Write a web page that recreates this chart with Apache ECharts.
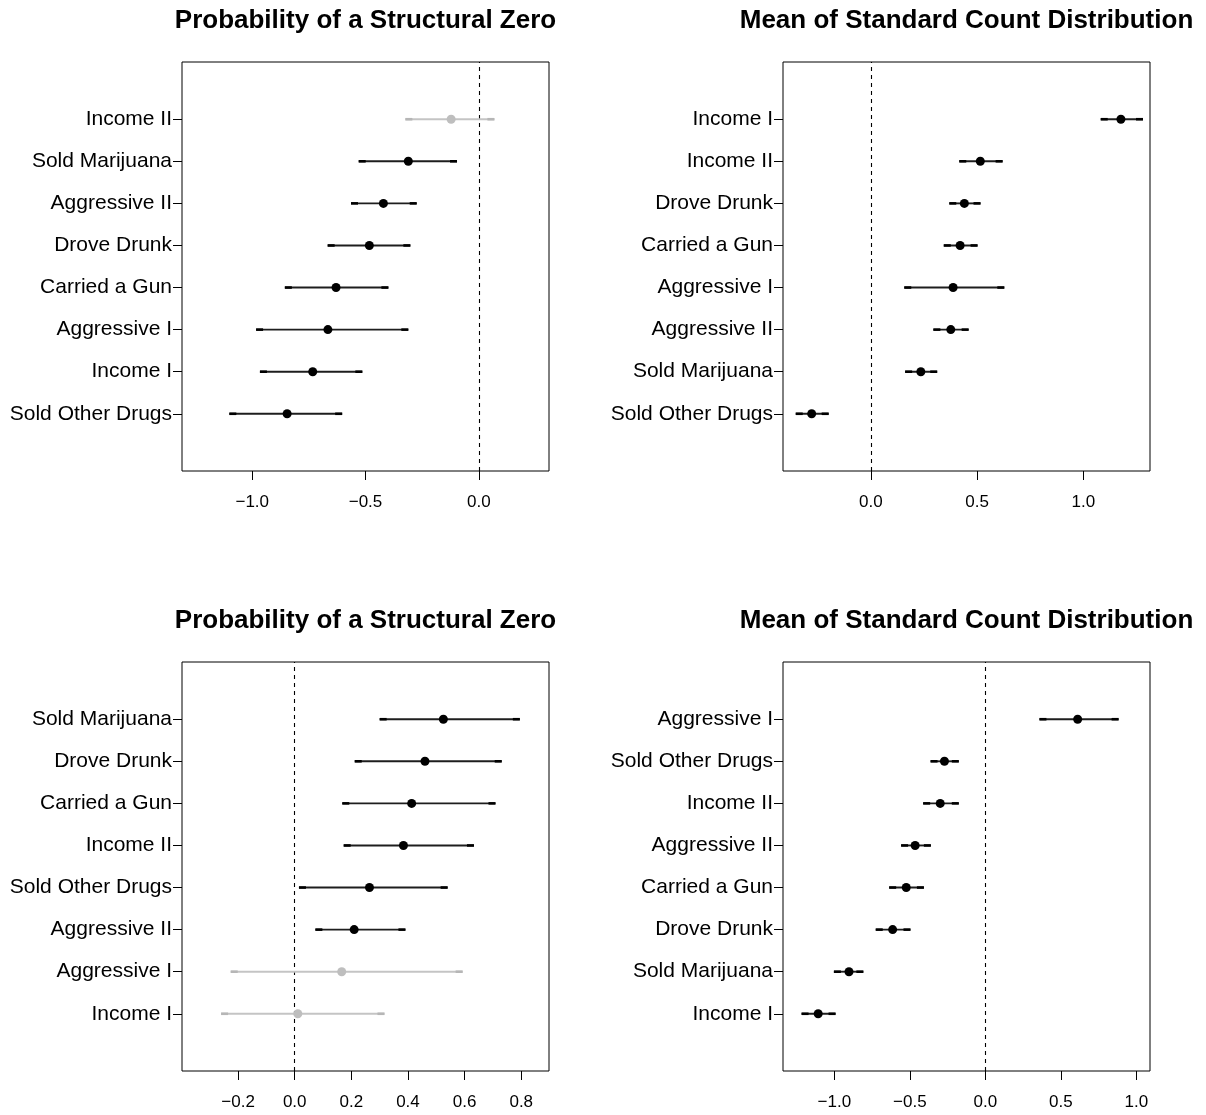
<!DOCTYPE html>
<html><head><meta charset="utf-8">
<script src="https://cdn.jsdelivr.net/npm/echarts@6/dist/echarts.min.js"></script>
<style>html,body{margin:0;padding:0;background:#fff}#c{width:1206px;height:1115px}</style>
</head><body><div id="c"></div>
<script>
// ---------- data (rows listed top to bottom) ----------
const titleZero = 'Probability of a Structural Zero';
const titleCount = 'Mean of Standard Count Distribution';

const p1Labels = ['Income II','Sold Marijuana','Aggressive II','Drove Drunk','Carried a Gun','Aggressive I','Income I','Sold Other Drugs'];
const p1Est = [-0.122,-0.311,-0.421,-0.483,-0.630,-0.666,-0.733,-0.846];
const p1Lo  = [-0.324,-0.530,-0.564,-0.667,-0.856,-0.983,-0.966,-1.101];
const p1Hi  = [0.069,-0.096,-0.274,-0.302,-0.399,-0.311,-0.514,-0.603];
const p1Sig = [0,1,1,1,1,1,1,1];
const p1Ticks = [-1.0,-0.5,0.0];

const p2Labels = ['Income I','Income II','Drove Drunk','Carried a Gun','Aggressive I','Aggressive II','Sold Marijuana','Sold Other Drugs'];
const p2Est = [1.177,0.515,0.440,0.420,0.387,0.376,0.235,-0.279];
const p2Lo  = [1.082,0.416,0.369,0.343,0.157,0.294,0.161,-0.354];
const p2Hi  = [1.281,0.620,0.516,0.502,0.628,0.460,0.312,-0.199];
const p2Sig = [1,1,1,1,1,1,1,1];
const p2Ticks = [0.0,0.5,1.0];

const p3Labels = ['Sold Marijuana','Drove Drunk','Carried a Gun','Income II','Sold Other Drugs','Aggressive II','Aggressive I','Income I'];
const p3Est = [0.525,0.460,0.413,0.384,0.264,0.210,0.166,0.011];
const p3Lo  = [0.300,0.212,0.168,0.173,0.015,0.073,-0.226,-0.260];
const p3Hi  = [0.795,0.731,0.709,0.633,0.540,0.391,0.593,0.317];
const p3Sig = [1,1,1,1,1,1,0,0];
const p3Ticks = [-0.2,0.0,0.2,0.4,0.6,0.8];

const p4Labels = ['Aggressive I','Sold Other Drugs','Income II','Aggressive II','Carried a Gun','Drove Drunk','Sold Marijuana','Income I'];
const p4Est = [0.611,-0.271,-0.299,-0.465,-0.524,-0.614,-0.903,-1.107];
const p4Lo  = [0.358,-0.363,-0.412,-0.558,-0.637,-0.726,-1.003,-1.217];
const p4Hi  = [0.882,-0.176,-0.176,-0.361,-0.407,-0.496,-0.808,-0.992];
const p4Sig = [1,1,1,1,1,1,1,1];
const p4Ticks = [-1.0,-0.5,0.0,0.5,1.0];

// ---------- layout ----------
const FONT = '"Liberation Sans", Arial, Helvetica, sans-serif';
const panels = [
  {title:titleZero,  labels:p1Labels, est:p1Est, lo:p1Lo, hi:p1Hi, sig:p1Sig, ticks:p1Ticks, xmin:-1.31,  xmax:0.31,  left:182, top:62},
  {title:titleCount, labels:p2Labels, est:p2Est, lo:p2Lo, hi:p2Hi, sig:p2Sig, ticks:p2Ticks, xmin:-0.414, xmax:1.314, left:783, top:62},
  {title:titleZero,  labels:p3Labels, est:p3Est, lo:p3Lo, hi:p3Hi, sig:p3Sig, ticks:p3Ticks, xmin:-0.398, xmax:0.898, left:182, top:662},
  {title:titleCount, labels:p4Labels, est:p4Est, lo:p4Lo, hi:p4Hi, sig:p4Sig, ticks:p4Ticks, xmin:-1.34,  xmax:1.09,  left:783, top:662}
];
const W = 367, H = 409;

function fmt(v){
  const s = Math.abs(v).toFixed(1);
  return (v < -1e-9 ? '\u2212' : '') + s;
}

function renderItem(params, api){
  const y = api.value(3);
  const lo = api.coord([api.value(0), y]);
  const pt = api.coord([api.value(1), y]);
  const hi = api.coord([api.value(2), y]);
  const sig = api.value(4);
  const lineCol = sig ? '#1e1e1e' : '#c4c4c4';
  const capCol = sig ? '#000000' : '#b6b6b6';
  const dotCol = sig ? '#000000' : '#bebebe';
  const cap = 7;
  return {type:'group', children:[
    {type:'line', shape:{x1:lo[0], y1:lo[1], x2:hi[0], y2:hi[1]}, style:{stroke:lineCol, lineWidth:1.9}},
    {type:'line', shape:{x1:lo[0], y1:lo[1], x2:lo[0]+cap, y2:lo[1]}, style:{stroke:capCol, lineWidth:2.6}},
    {type:'line', shape:{x1:hi[0]-cap, y1:hi[1], x2:hi[0], y2:hi[1]}, style:{stroke:capCol, lineWidth:2.6}},
    {type:'circle', shape:{cx:pt[0], cy:pt[1], r:4.5}, style:{fill:dotCol}}
  ]};
}

const grid = [], xAxis = [], yAxis = [], series = [], graphic = [];
const rowVals = [1,2,3,4,5,6,7,8];
panels.forEach((p, i) => {
  grid.push({left:p.left, top:p.top, width:W, height:H, show:true, borderColor:'#000', borderWidth:1, backgroundColor:'transparent'});
  xAxis.push({
    type:'value', gridIndex:i, position:'bottom', min:p.xmin, max:p.xmax, splitLine:{show:false},
    axisLine:{show:false, onZero:false},
    axisTick:{show:true, inside:false, length:9, customValues:p.ticks, lineStyle:{color:'#000', width:1}},
    axisLabel:{show:true, customValues:p.ticks, margin:23, formatter:fmt, color:'#000', fontSize:17, fontFamily:FONT}
  });
  const labs = p.labels;
  yAxis.push({
    type:'value', gridIndex:i, position:'left', min:-0.36, max:9.36, splitLine:{show:false},
    axisLine:{show:false, onZero:false},
    axisTick:{show:true, inside:false, length:9, customValues:rowVals, lineStyle:{color:'#000', width:1}},
    axisLabel:{show:true, customValues:rowVals, margin:10, color:'#000', fontSize:21, fontFamily:FONT,
      formatter: v => labs[8 - Math.round(v)] || ''}
  });
  const data = p.labels.map((name, k) => [p.lo[k], p.est[k], p.hi[k], 8 - k, p.sig[k], name]);
  series.push({
    type:'custom', xAxisIndex:i, yAxisIndex:i, renderItem:renderItem, data:data,
    encode:{x:[0,1,2], y:3}, silent:true, animation:false, z:3,
    markLine:{silent:true, symbol:'none', animation:false, label:{show:false}, z:1,
      lineStyle:{color:'#000', width:1.1, type:[4,4]}, data:[{xAxis:0}]}
  });
  graphic.push({type:'text', x:p.left + W/2, y:p.top - 41,
    style:{text:p.title, font:'bold 26px ' + FONT, fill:'#000', align:'center', verticalAlign:'middle', textAlign:'center', textVerticalAlign:'middle'}});
});

const chart = echarts.init(document.getElementById('c'), null, {renderer:'canvas'});
chart.setOption({animation:false, backgroundColor:'#fff', grid, xAxis, yAxis, series, graphic});
</script>
</body></html>
